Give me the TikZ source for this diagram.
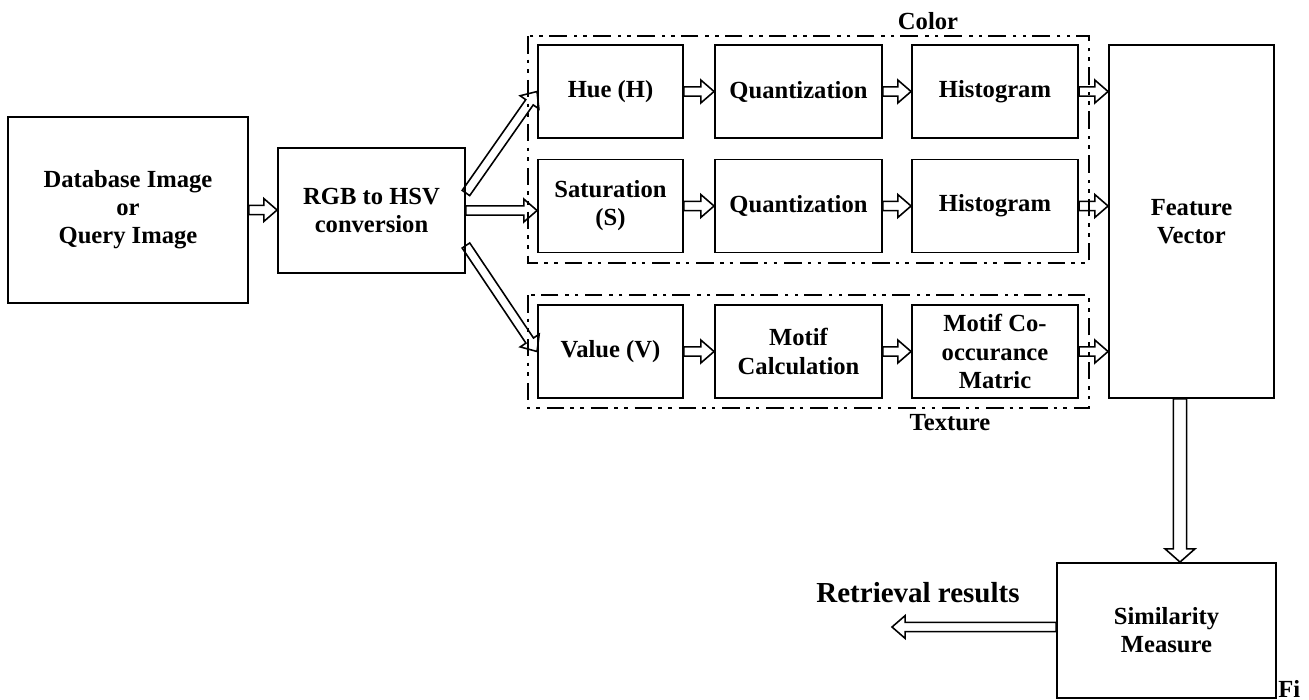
\documentclass[tikz,border=0pt]{standalone}
\usepackage{fontspec}
\setmainfont{Liberation Serif}
\usetikzlibrary{calc}
\tikzset{
  blk/.style={draw,line width=1.1pt,inner sep=0pt,align=center,
    font=\bfseries\fontsize{14}{16}\selectfont},
  hollow/.style n args={3}{line width=0.9pt,line join=miter,
    to path={let \p1=($(\tikztotarget)!#3!(\tikztostart)$) in
      ($(\tikztostart)!#1!90:(\tikztotarget)$) -- ($(\p1)!#1!90:(\tikztotarget)$)
      -- ($(\p1)!#2!90:(\tikztotarget)$) -- (\tikztotarget)
      -- ($(\p1)!#2!-90:(\tikztotarget)$) -- ($(\p1)!#1!-90:(\tikztotarget)$)
      -- ($(\tikztostart)!#1!-90:(\tikztotarget)$) -- cycle}},
  flow/.style={hollow={2.6pt}{6.5pt}{7.5pt}},
  flowwide/.style={hollow={3.8pt}{8.5pt}{7.5pt}},
  group/.style={line width=1.3pt,
    dash pattern=on 10pt off 3.5pt on 2pt off 3.5pt on 2pt off 4pt},
  tag/.style={font=\bfseries\fontsize{14}{16}\selectfont,inner sep=0pt}
}
\begin{document}
\begin{tikzpicture}[x=0.02cm,y=-0.02cm]
    \useasboundingbox (0,0) rectangle (1309,700);
    \draw[group] (528,36) rectangle (1089,263);
    \draw[group] (528,295) rectangle (1089,408);
    \node[tag,anchor=base] (color) at (928,29) {Color};
    \node[tag,anchor=base] (texture) at (950,430) {Texture};
    \node[blk,minimum width=4.8cm,minimum height=3.72cm] (db) at (128,210)
      {Database Image\\or\\Query Image};
    \node[blk,minimum width=3.74cm,minimum height=2.5cm] (rgb) at (371.5,210.5)
      {RGB to HSV\\conversion};
    \begin{scope}[every node/.style={blk,minimum height=1.86cm}]
      \node[minimum width=2.9cm] (hue) at (610.5,91.5) {Hue (H)};
      \node[minimum width=3.34cm] (quanta) at (798.5,91.5) {Quantization};
      \node[minimum width=3.32cm] (hista) at (995,91.5) {Histogram};
      \node[minimum width=2.9cm] (sat) at (610.5,206) {Saturation\\(S)};
      \node[minimum width=3.34cm] (quantb) at (798.5,206) {Quantization};
      \node[minimum width=3.32cm] (histb) at (995,206) {Histogram};
      \node[minimum width=2.9cm] (val) at (610.5,351.5) {Value (V)};
      \node[minimum width=3.34cm] (motif) at (798.5,351.5) {Motif\\Calculation};
      \node[minimum width=3.32cm] (cooc) at (995,351.5) {Motif Co-\\occurance\\Matric};
    \end{scope}
    \node[blk,minimum width=3.3cm,minimum height=7.06cm] (feat) at (1191.5,221.5)
      {Feature\\Vector};
    \node[blk,minimum width=4.38cm,minimum height=2.7cm] (sim) at (1166.5,630.5)
      {Similarity\\Measure};
    \node[anchor=base,inner sep=0pt,font=\bfseries\fontsize{16.5}{18}\selectfont]
      (res) at (918,602) {Retrieval results};
    \node[tag,anchor=base west] (fig) at (1278,697) {Fi};
    \coordinate (out) at (892,627);
    \draw[flow] (db.east) to (db.east -| rgb.west);
    \draw[flow] ([yshift=0.35cm]rgb.east) to (hue.west);
    \draw[flow] (rgb.east) to (rgb.east -| sat.west);
    \draw[flow] ([yshift=-0.7cm]rgb.east) to (val.west);
    \draw[flow] (hue.east) to (quanta.west);
    \draw[flow] (quanta.east) to (hista.west);
    \draw[flow] (hista.east) to (hista.east -| feat.west);
    \draw[flow] (sat.east) to (quantb.west);
    \draw[flow] (quantb.east) to (histb.west);
    \draw[flow] (histb.east) to (histb.east -| feat.west);
    \draw[flow] (val.east) to (motif.west);
    \draw[flow] (motif.east) to (cooc.west);
    \draw[flow] (cooc.east) to (cooc.east -| feat.west);
    \draw[flowwide] ([xshift=-0.23cm]feat.south) to ([xshift=-0.23cm]feat.south |- sim.north);
    \draw[flow] (sim.west |- out) to (out);
  \end{tikzpicture}
\end{document}
